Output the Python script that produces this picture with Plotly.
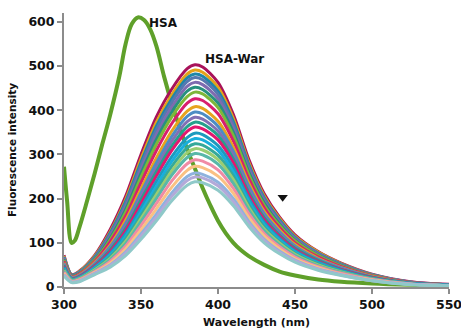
import plotly.graph_objects as go

# Emission spectra: free HSA and HSA titrated with warfarin
hsa_wavelength = [300, 302, 305, 307, 310, 315, 320, 325, 330, 336, 340, 344, 348, 352,
                  356, 360, 365, 370, 375, 380, 385, 390, 395, 400, 405, 410, 415, 420,
                  430, 440, 450, 465, 480, 500, 525, 550]
hsa_intensity = [272, 195, 100, 105, 135, 195, 258, 325, 390, 478, 550, 595, 610, 604,
                 583, 545, 476, 415, 362, 312, 268, 224, 185, 150, 122, 100, 83, 70,
                 50, 35, 26, 17, 12, 8, 5, 3]

war_wavelength = [300, 305, 310, 320, 330, 340, 350, 360, 370, 380, 385, 390,
                  400, 410, 420, 430, 440, 450, 465, 480, 500, 525, 550]

war_intensity = [
    [72, 28, 36, 72, 130, 205, 300, 385, 448, 494, 503, 498, 463, 390, 289, 211, 158, 118, 80, 54, 29, 12, 6],
    [70, 27, 35, 70, 125, 198, 290, 373, 435, 482, 491, 486, 452, 381, 282, 206, 155, 115, 79, 53, 28, 11, 5],
    [68, 27, 34, 68, 122, 193, 282, 364, 426, 473, 482, 477, 443, 374, 277, 202, 152, 113, 77, 52, 28, 11, 5],
    [67, 26, 33, 67, 119, 188, 275, 356, 418, 465, 474, 469, 436, 367, 273, 199, 149, 111, 76, 51, 27, 11, 5],
    [65, 25, 32, 64, 115, 181, 266, 345, 407, 454, 463, 458, 426, 359, 266, 194, 146, 109, 74, 50, 27, 11, 5],
    [63, 25, 31, 63, 111, 175, 257, 334, 396, 443, 452, 447, 416, 350, 260, 190, 142, 106, 72, 49, 26, 10, 5],
    [61, 24, 30, 61, 107, 169, 248, 323, 385, 431, 441, 437, 406, 342, 254, 185, 139, 104, 71, 48, 26, 10, 5],
    [58, 23, 29, 58, 102, 160, 236, 309, 370, 416, 426, 422, 392, 330, 245, 179, 134, 100, 68, 46, 25, 10, 5],
    [55, 22, 27, 55, 95, 151, 222, 292, 353, 398, 408, 404, 375, 316, 235, 171, 129, 96, 65, 44, 24, 9, 4],
    [53, 21, 26, 53, 91, 144, 213, 281, 341, 386, 396, 392, 364, 307, 228, 166, 125, 93, 63, 43, 23, 9, 4],
    [51, 20, 25, 51, 87, 138, 205, 270, 330, 374, 384, 380, 353, 298, 221, 161, 121, 90, 61, 41, 22, 9, 4],
    [49, 19, 24, 49, 84, 132, 197, 261, 319, 363, 373, 369, 343, 289, 214, 157, 117, 88, 60, 40, 22, 9, 4],
    [47, 18, 23, 47, 80, 127, 189, 251, 309, 352, 362, 358, 333, 281, 208, 152, 114, 85, 58, 39, 21, 8, 4],
    [45, 17, 22, 45, 76, 120, 179, 239, 295, 338, 348, 345, 320, 270, 200, 146, 110, 82, 56, 38, 20, 8, 4],
    [42, 17, 21, 43, 72, 114, 170, 228, 284, 327, 336, 333, 309, 260, 193, 141, 106, 79, 54, 36, 19, 8, 4],
    [40, 16, 20, 41, 69, 109, 162, 218, 273, 315, 324, 321, 298, 251, 186, 136, 102, 76, 52, 35, 19, 7, 4],
    [38, 15, 19, 39, 65, 103, 155, 209, 263, 304, 313, 310, 288, 243, 180, 131, 99, 74, 50, 34, 18, 7, 3],
    [36, 14, 18, 37, 62, 98, 148, 200, 253, 293, 302, 299, 278, 234, 174, 127, 95, 71, 48, 33, 18, 7, 3],
    [34, 13, 17, 35, 58, 92, 139, 189, 240, 279, 288, 285, 265, 223, 166, 121, 91, 68, 46, 31, 17, 7, 3],
    [31, 12, 15, 33, 54, 86, 129, 177, 226, 264, 273, 270, 251, 212, 157, 115, 86, 64, 44, 29, 16, 6, 3],
    [28, 11, 14, 31, 50, 79, 120, 165, 213, 250, 258, 255, 237, 200, 148, 108, 81, 61, 41, 28, 15, 6, 3],
    [27, 11, 13, 30, 48, 76, 115, 158, 205, 241, 249, 247, 229, 193, 143, 105, 78, 59, 40, 27, 14, 6, 3],
    [25, 10, 12, 28, 45, 71, 108, 150, 195, 230, 238, 236, 219, 184, 137, 100, 75, 56, 38, 26, 14, 5, 3],
]

war_colors = [
    "#A8125A", "#E3A21A", "#1F86A8", "#5578B0", "#7E6BB0", "#27907F",
    "#7DB73A", "#D81E6E", "#E7A31E", "#4C8DC4", "#8170B4", "#26A08C",
    "#E2176F", "#1D9BBE", "#19AEDC", "#35A99A", "#9ACD72", "#58B8A8",
    "#F08BA5", "#FAC183", "#8EB2DE", "#B3A9D9", "#8FC9C9",
]

x_ticks = [300, 350, 400, 450, 500, 550]
y_ticks = [0, 100, 200, 300, 400, 500, 600]

# Arrow marking the quenching direction
arrow_x = [442]
arrow_y = [203]

fig = go.Figure()

fig.add_trace(go.Scatter(
    x=hsa_wavelength, y=hsa_intensity, mode="lines",
    line=dict(color="#5FA02A", width=4, shape="spline", smoothing=1.0),
    hoverinfo="skip", showlegend=False,
))

for values, color in zip(war_intensity, war_colors):
    fig.add_trace(go.Scatter(
        x=war_wavelength, y=values, mode="lines",
        line=dict(color=color, width=3, shape="spline", smoothing=0.8),
        hoverinfo="skip", showlegend=False,
    ))

fig.add_trace(go.Scatter(
    x=arrow_x, y=arrow_y, mode="markers",
    marker=dict(symbol="triangle-down", size=9, color="#111111"),
    hoverinfo="skip", showlegend=False,
))

label_font = dict(family="DejaVu Sans", size=12, color="#111111")

fig.add_annotation(x=364.5, y=598, text="<b>HSA</b>", showarrow=False,
                   font=label_font, xanchor="center", yanchor="middle")
fig.add_annotation(x=410.5, y=517, text="<b>HSA-War</b>", showarrow=False,
                   font=label_font, xanchor="center", yanchor="middle")

axis_common = dict(
    showgrid=False, zeroline=False, showline=True, automargin=False,
    linecolor="#8C8C8C", linewidth=2,
    ticks="outside", ticklen=5, tickwidth=2, tickcolor="#8C8C8C",
    tickfont=dict(family="DejaVu Sans", size=12.5, color="#111111", weight="bold"),
)

fig.update_xaxes(
    range=[300, 550], tickvals=x_ticks, ticktext=[str(v) for v in x_ticks],
    ticklabeloverflow="allow",
    title=dict(text="<b>Wavelength (nm)</b>", standoff=7,
               font=dict(family="DejaVu Sans", size=11, color="#111111")),
    **axis_common,
)
fig.update_yaxes(
    range=[0, 620], tickvals=y_ticks, ticktext=[str(v) for v in y_ticks],
    title=dict(text="<b>Fluorescence intensity</b>", standoff=10,
               font=dict(family="DejaVu Sans", size=10.5, color="#111111")),
    **axis_common,
)

fig.update_layout(
    width=461, height=329,
    margin=dict(l=64, r=12, t=13, b=42),
    paper_bgcolor="white", plot_bgcolor="white",
)

fig.write_html("out.html", config={"displayModeBar": False})
